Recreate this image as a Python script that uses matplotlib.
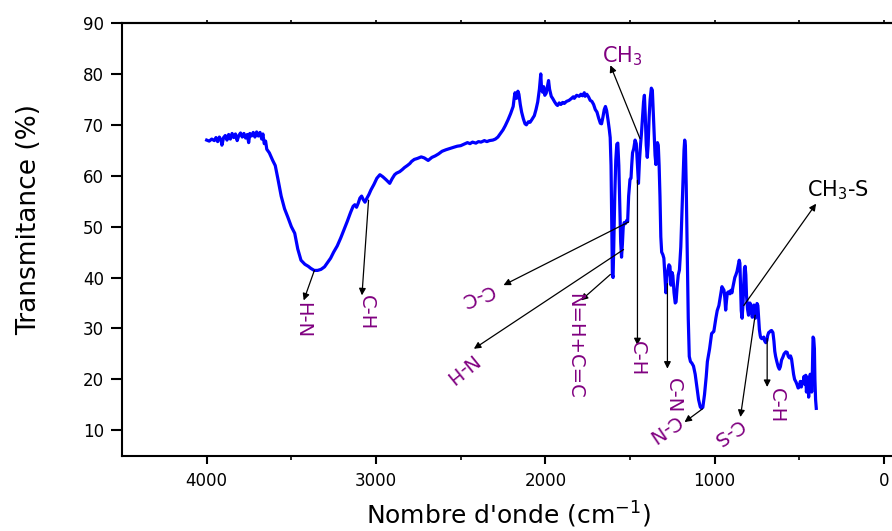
import matplotlib
matplotlib.use("Agg")
import matplotlib.pyplot as plt

plt.rcParams['font.family'] = ['DejaVu Sans']

# ---------------- data ----------------
wavenumber = [
    4000, 3985, 3970, 3955, 3945, 3935, 3925, 3915, 3910, 3900, 3890, 3880, 3870, 3860, 3850,
    3840, 3830, 3820, 3810, 3800, 3790, 3780, 3770, 3760, 3752, 3745, 3735, 3725, 3715, 3705,
    3695, 3685, 3675, 3668, 3660, 3652, 3645, 3630, 3610, 3595, 3580, 3560, 3540, 3520, 3500,
    3480, 3462, 3443, 3420, 3400, 3385, 3365, 3345, 3325, 3304, 3285, 3268, 3250, 3229, 3208,
    3188, 3170, 3150, 3135, 3125, 3115, 3105, 3095, 3085, 3075, 3065, 3055, 3042, 3030, 3012,
    2995, 2977, 2960, 2940, 2919, 2905, 2890, 2879, 2860, 2845, 2832, 2815, 2800, 2790, 2774,
    2755, 2733, 2715, 2692, 2670, 2650, 2630, 2610, 2587, 2560, 2540, 2520, 2500, 2480, 2460,
    2445, 2430, 2410, 2395, 2380, 2360, 2345, 2330, 2310, 2295, 2280, 2265, 2250, 2237, 2220,
    2205, 2190, 2183, 2179, 2170, 2162, 2156, 2148, 2140, 2130, 2120, 2112, 2100, 2090, 2080,
    2065, 2055, 2045, 2035, 2027, 2022, 2016, 2010, 2003, 1995, 1988, 1981, 1975, 1965, 1957,
    1945, 1935, 1928, 1918, 1908, 1898, 1888, 1875, 1860, 1845, 1835, 1829, 1815, 1800, 1790,
    1780, 1770, 1765, 1755, 1745, 1735, 1725, 1715, 1705, 1695, 1685, 1675, 1668, 1660, 1652,
    1645, 1638, 1630, 1622, 1617, 1612, 1608, 1604, 1600, 1596, 1590, 1584, 1578, 1572, 1566,
    1560, 1555, 1550, 1545, 1540, 1534, 1527, 1520, 1514, 1508, 1500, 1494, 1490, 1485, 1478,
    1470, 1463, 1456, 1450, 1444, 1438, 1433, 1426, 1420, 1415, 1410, 1404, 1398, 1393, 1387,
    1381, 1374, 1368, 1362, 1357, 1352, 1347, 1342, 1338, 1333, 1328, 1323, 1318, 1313, 1306,
    1300, 1295, 1288, 1282, 1276, 1270, 1264, 1258, 1252, 1247, 1240, 1233, 1228, 1222, 1215,
    1208, 1200, 1193, 1186, 1181, 1177, 1173, 1168, 1162, 1156, 1150, 1143, 1135, 1125, 1115,
    1105, 1095, 1085, 1078, 1070, 1060, 1050, 1043, 1035, 1030, 1024, 1018, 1012, 1005, 1000,
    993, 985, 975, 965, 957, 950, 945, 940, 935, 930, 925, 918, 910, 904, 898,
    893, 887, 881, 875, 868, 860, 855, 851, 847, 843, 838, 833, 828, 824, 820,
    816, 812, 806, 800, 796, 792, 787, 782, 778, 773, 768, 764, 760, 755, 750,
    745, 740, 736, 731, 728, 722, 716, 710, 704, 698, 692, 687, 681, 676, 670,
    664, 656, 650, 645, 640, 633, 625, 618, 612, 605, 598, 590, 580, 572, 565,
    558, 552, 546, 540, 534, 528, 520, 514, 507, 500, 494, 488, 482, 477, 472,
    467, 462, 458, 454, 449, 445, 441, 436, 431, 427, 423, 419, 415, 411, 408,
    404, 400,
]
transmittance = [
    67.0, 66.8, 67.2, 66.9, 67.5, 66.7, 67.6, 67.0, 66.0, 67.5, 67.9, 67.0, 68.1, 67.2, 68.3,
    67.5, 68.2, 66.9, 67.9, 68.4, 67.6, 68.3, 67.4, 68.1, 66.5, 68.3, 67.8, 68.5, 67.6, 68.6,
    67.8, 68.5, 67.2, 68.2, 66.3, 66.8, 65.2, 64.5, 63.0, 62.0, 59.5, 56.0, 53.5, 51.8, 50.0,
    48.7, 45.6, 43.4, 42.6, 42.2, 41.8, 41.4, 41.4, 41.6, 42.1, 43.0, 43.8, 45.0, 46.2, 47.8,
    49.5, 51.0, 52.8, 54.0, 54.3, 53.8, 54.6, 55.6, 56.0, 55.3, 54.8, 55.5, 56.3, 57.2, 58.3,
    59.5, 60.2, 59.8, 59.2, 58.5, 59.4, 60.2, 60.5, 60.8, 61.2, 61.6, 62.0, 62.4, 62.8, 63.2,
    63.4, 63.7, 63.5, 63.0, 63.6, 63.9, 64.3, 64.8, 65.1, 65.4, 65.6, 65.8, 65.9, 66.2, 66.5,
    66.3, 66.6, 66.4, 66.7, 66.6, 66.9, 66.7, 66.9, 67.0, 67.2, 67.6, 68.3, 69.0, 69.8, 71.0,
    72.2, 73.6, 75.5, 76.3, 75.2, 76.6, 76.0, 74.0, 72.5, 71.2, 70.2, 70.0, 70.6, 70.5, 71.0,
    71.8, 73.0, 74.5, 77.0, 80.0, 77.0, 76.4, 77.5, 75.8, 76.2, 77.5, 78.7, 77.0, 75.6, 75.2,
    74.5, 74.0, 73.8, 74.3, 74.0, 74.4, 74.2, 74.6, 74.8, 75.2, 75.5, 75.2, 75.8, 75.6, 76.0,
    75.7, 76.3, 75.6, 76.0, 75.5, 74.8, 74.6, 74.0, 73.0, 72.5, 71.3, 70.3, 70.2, 71.5, 73.0,
    73.6, 72.8, 71.0, 69.0, 67.5, 62.0, 52.0, 40.5, 40.0, 46.0, 56.0, 63.0, 66.2, 66.4, 62.0,
    54.0, 47.0, 44.0, 46.5, 50.0, 50.8, 50.6, 51.2, 51.0, 56.0, 59.3, 59.5, 62.0, 64.5, 65.3,
    67.0, 66.3, 62.0, 58.5, 63.0, 66.0, 68.0, 71.5, 74.5, 75.8, 72.0, 66.0, 63.6, 66.0, 71.5,
    75.0, 77.2, 76.8, 72.0, 67.6, 64.0, 62.2, 65.0, 66.5, 66.0, 62.0, 56.0, 48.0, 45.0, 44.5,
    43.8, 41.0, 37.0, 40.0, 41.5, 42.5, 42.2, 38.5, 41.0, 40.4, 37.0, 35.0, 35.2, 38.0, 40.5,
    41.5, 46.0, 53.0, 60.0, 65.0, 67.0, 66.0, 58.0, 45.0, 32.0, 24.5, 23.5, 23.2, 22.6, 21.0,
    18.5, 16.0, 14.6, 14.3, 14.5, 17.0, 20.5, 23.5, 25.0, 26.0, 27.5, 29.0, 29.2, 29.4, 30.5,
    32.0, 33.5, 34.5, 36.5, 38.2, 37.8, 37.5, 36.0, 33.6, 35.5, 37.0, 37.2, 36.8, 37.5, 37.0,
    38.0, 39.0, 40.0, 40.5, 41.2, 42.5, 43.4, 42.8, 38.0, 33.5, 32.0, 34.5, 39.0, 41.8, 42.2,
    40.5, 36.5, 33.8, 32.6, 34.0, 35.0, 34.7, 33.2, 32.2, 33.0, 34.6, 33.5, 32.0, 33.5, 34.9,
    34.5, 32.0, 29.8, 28.6, 28.2, 28.0, 28.0, 28.3, 27.5, 27.2, 27.6, 28.6, 29.2, 29.3, 29.5,
    29.6, 29.2, 27.5, 25.5, 24.5, 23.5, 22.5, 22.0, 22.5, 23.8, 24.3, 25.0, 25.4, 25.3, 24.5,
    24.2, 24.6, 24.0, 22.5, 21.0, 20.0, 19.5, 19.0, 18.3, 18.5, 19.6, 18.5, 19.6, 19.4, 20.6,
    19.0, 20.8, 17.5, 19.8, 20.4, 16.5, 19.5, 21.0, 20.5, 17.5, 21.5, 28.3, 28.0, 26.0, 20.0,
    16.0, 14.3,
]

x_ticks = [4000, 3000, 2000, 1000, 0]
x_minor_ticks = [3500, 2500, 1500, 500]
y_ticks = [10, 20, 30, 40, 50, 60, 70, 80, 90]

# band labels: text, label position, rotation, arrow tail (on curve), arrow head
band_labels = ["H-N", "C-H", "C-C", "N-H", "N=H+C=C", "C-H", "C-N", "C-N", "C-S", "C-H"]
label_x = [3433, 3054, 2403, 2506, 1829, 1456, 1246, 1303, 925, 634]
label_y = [31.6, 33.2, 36.5, 22.2, 26.5, 24.1, 16.8, 10.4, 9.6, 14.9]
label_rot = [270, 270, 200, 219, 270, 270, 270, 214, 214, 270]
tail_x = [3364, 3044, 1509, 1538, 1616, 1456, 1279, 1072, 761, 690]
tail_y = [41.4, 55.2, 50.9, 45.5, 40.6, 59.1, 38.8, 14.2, 32.6, 28.0]
head_x = [3427, 3083, 2247, 2422, 1790, 1456, 1279, 1178, 848, 690]
head_y = [35.5, 36.5, 38.5, 26.0, 35.5, 26.7, 22.1, 11.6, 12.6, 18.5]

# top labels (horizontal)
top_labels = [r"CH$_3$", r"CH$_3$-S"]
top_colors = ["#800080", "black"]
top_x = [1547, 273]
top_y = [83.5, 57.2]
top_tail_x = [1441, 828]
top_tail_y = [67.3, 34.5]
top_head_x = [1616, 401]
top_head_y = [81.7, 54.5]

# ---------------- figure ----------------
W, H = 892, 531
fig = plt.figure(figsize=(W / 100, H / 100), dpi=100)
# x: 4500 at px 122, 0 at px 884 -> right limit -60 reaches past the canvas edge
x_left, x_right = 4500, -60
px_per_unit = (884 - 122) / 4500.0
ax_w = (x_left - x_right) * px_per_unit
ax = fig.add_axes([122 / W, 1 - 455.7 / H, ax_w / W, 432.7 / H])

ax.plot(wavenumber, transmittance, color="#0000FF", lw=2.3, solid_joinstyle="round")

ax.set_xlim(x_left, x_right)
ax.set_ylim(5, 90)
ax.set_xticks(x_ticks)
ax.set_xticks(x_minor_ticks, minor=True)
ax.set_yticks(y_ticks)

for side in ["left", "bottom", "top"]:
    ax.spines[side].set_linewidth(1.5)
ax.spines["right"].set_visible(False)

ax.tick_params(axis="x", which="major", direction="out", length=6, width=1.5,
               labelsize=12, pad=6)
ax.tick_params(axis="x", which="minor", direction="out", length=3, width=1.2)
ax.tick_params(axis="y", which="major", direction="out", length=8, width=1.5,
               labelsize=12, pad=5)

# short ticks on the top edge
secax = ax.secondary_xaxis("top")
secax.set_xticks(x_ticks)
secax.set_xticks(x_minor_ticks, minor=True)
secax.tick_params(which="both", direction="out", length=2, width=1.2, labeltop=False)
secax.spines["top"].set_linewidth(1.5)

ax.set_xlabel("Nombre d'onde (cm$^{-1}$)", fontsize=18)
ax.xaxis.set_label_coords(0.50, -0.103)
ax.set_ylabel("Transmitance (%)", fontsize=19)
ax.yaxis.set_label_coords(-0.103, 0.545)

purple = "#800080"
for txt, lx, ly, rot, tx, ty, hx, hy in zip(band_labels, label_x, label_y, label_rot,
                                             tail_x, tail_y, head_x, head_y):
    ax.annotate("", xy=(hx, hy), xytext=(tx, ty),
                arrowprops=dict(arrowstyle="-|>", color="black", lw=0.9,
                                mutation_scale=10, shrinkA=0, shrinkB=0))
    ax.text(lx, ly, txt, color=purple, fontsize=14, rotation=rot,
            ha="center", va="center", rotation_mode="anchor")

for txt, col, lx, ly, tx, ty, hx, hy in zip(top_labels, top_colors, top_x, top_y,
                                             top_tail_x, top_tail_y, top_head_x, top_head_y):
    ax.annotate("", xy=(hx, hy), xytext=(tx, ty),
                arrowprops=dict(arrowstyle="-|>", color="black", lw=0.9,
                                mutation_scale=10, shrinkA=0, shrinkB=0))
    ax.text(lx, ly, txt, color=col, fontsize=15, ha="center", va="center")

fig.savefig("out.png", dpi=100)
